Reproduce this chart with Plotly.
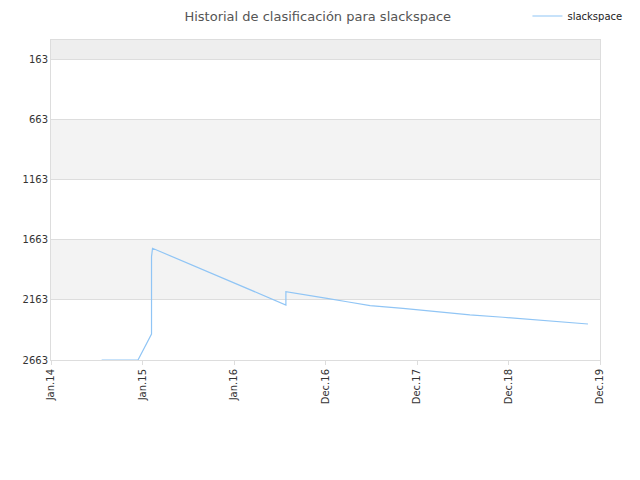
import plotly.graph_objects as go

# datos
fechas = [
    "2014-07-22", "2014-12-14", "2015-02-06", "2015-02-06", "2015-02-10",
    "2016-07-26", "2016-07-26", "2016-08-11", "2016-10-02", "2017-01-06",
    "2017-03-27", "2017-06-27", "2017-11-05", "2018-03-20", "2018-07-30",
    "2018-12-09", "2019-04-23", "2019-09-02", "2019-11-13",
]
posiciones = [
    2663, 2663, 2447, 1805, 1735,
    2206, 2096, 2101, 2117, 2151,
    2179, 2212, 2234, 2262, 2289,
    2308, 2331, 2353, 2364,
]
tick_fechas = ["2014-01-01", "2015-01-01", "2016-01-01", "2016-12-31",
               "2017-12-31", "2018-12-31", "2019-12-31"]
tick_textos = ["Jan.14", "Jan.15", "Jan.16", "Dec.16", "Dec.17", "Dec.18", "Dec.19"]
y_ticks = [163, 663, 1163, 1663, 2163, 2663]

# bandas de fondo (y0, y1, color)
bandas = [(5, 163, "#eeeeee"), (663, 1163, "#f3f3f3"), (1663, 2163, "#f3f3f3")]

fig = go.Figure()
fig.add_trace(go.Scatter(x=fechas, y=posiciones, mode="lines", name="slackspace",
                         line=dict(color="#90c5f5", width=1.2)))

for y0, y1, c in bandas:
    fig.add_shape(type="rect", xref="paper", yref="y", x0=0, x1=1, y0=y0, y1=y1,
                  fillcolor=c, line_width=0, layer="below")

fig.update_xaxes(range=["2014-01-01", "2019-12-31"], tickvals=tick_fechas, ticktext=tick_textos,
                 tickangle=-90, tickfont=dict(size=10, color="#333"), showgrid=False,
                 showline=True, linecolor="#dddddd", mirror=True, ticks="outside",
                 ticklen=4, tickcolor="#dddddd", zeroline=False, automargin=False)
fig.update_yaxes(range=[2663, 5], tickvals=y_ticks, tickfont=dict(size=10, color="#333"),
                 gridcolor="#dddddd", showline=True, linecolor="#dddddd", mirror=True,
                 zeroline=False, automargin=False)

# la página añade 8px de margen, se compensa aquí
fig.update_layout(
    width=640, height=480, plot_bgcolor="white", paper_bgcolor="white",
    font=dict(family="DejaVu Sans"),
    title=dict(text="Historial de clasificación para slackspace", x=0.484, y=0.992,
               font=dict(size=13, color="#555")),
    margin=dict(l=43, r=48, t=32, b=128, autoexpand=False),
    showlegend=True,
    legend=dict(x=1.05, y=1.075, xanchor="right", yanchor="middle", font=dict(size=10, color="#222"),
                bgcolor="rgba(0,0,0,0)", itemwidth=30),
)

fig.write_html("out.html")
